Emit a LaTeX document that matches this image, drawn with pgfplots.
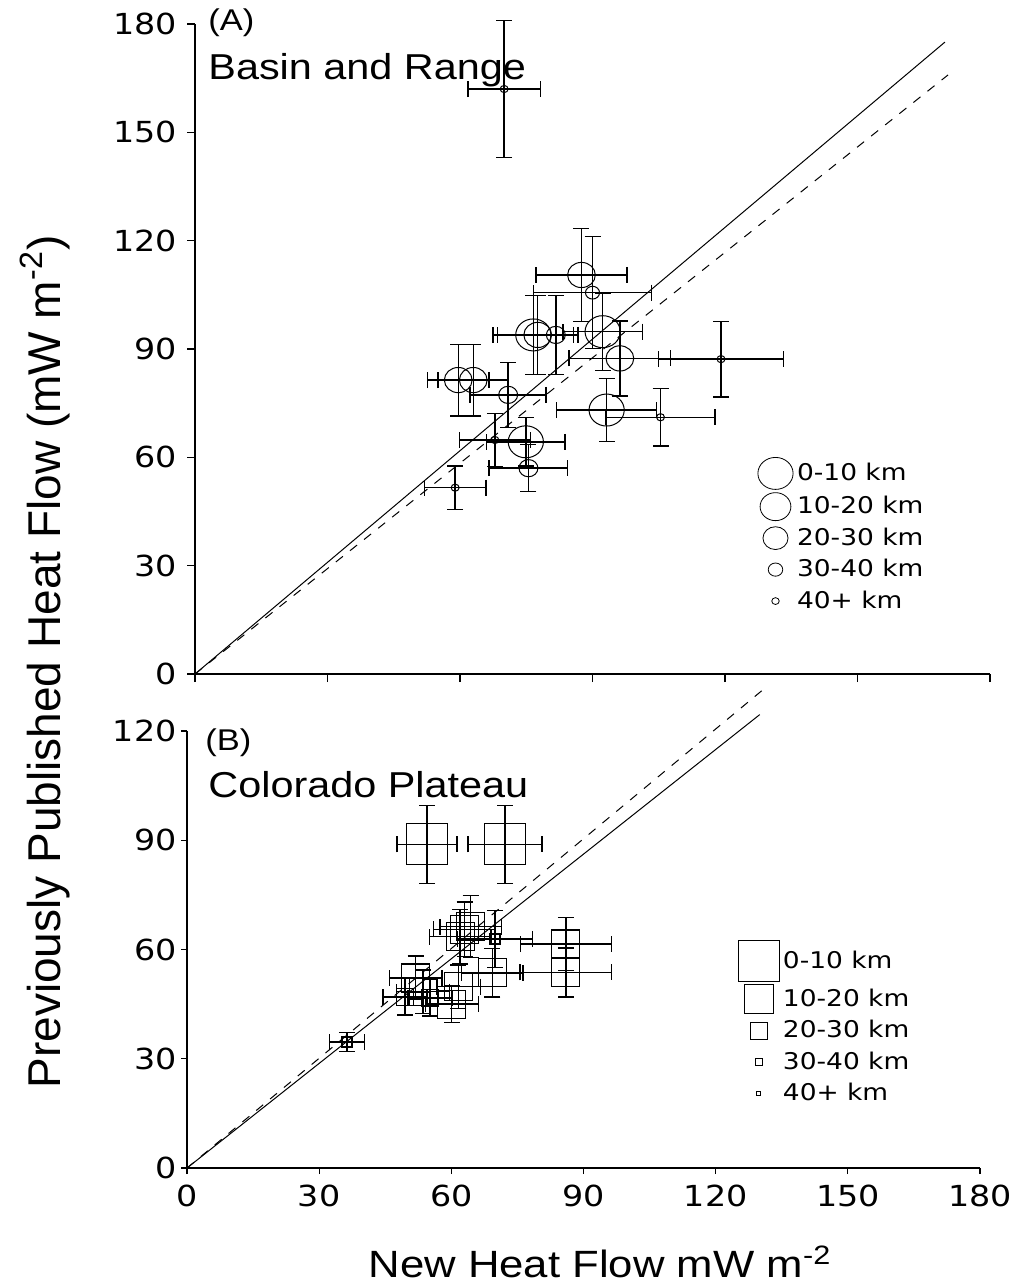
\documentclass[border=0pt]{standalone}
\usepackage{fontspec}
\setmainfont{DejaVu Sans}[FakeStretch=1.15]
\newfontfamily\arial{Liberation Sans}[FakeStretch=1.15]
\newfontfamily\arialn{Liberation Sans}
\usepackage{pgfplots}
\pgfplotsset{compat=1.18}

\pgfplotsset{
  hf/.style={
    scale only axis, axis x line=bottom, axis y line=left,
    axis line style={-, line width=0.6pt},
    xmin=0, xmax=180, ymin=0,
    tick align=outside,
    tick style={black, line width=0.6pt},
    xtick={0,30,...,180},
    ticklabel style={font=\fontsize{14.5}{14.5}\selectfont},
    /pgf/number format/assume math mode=true,
    clip=false,
    legend style={draw=none, fill=none, font=\fontsize{11.5}{13}\selectfont,
      legend cell align=left, anchor=north west, row sep=1.5pt},
  },
  eb/.style={error bars/.cd, x dir=both, x explicit, y dir=both, y explicit,
    error bar style={line width=0.7pt, black},
    error mark options={rotate=90, black, line width=0.7pt, mark size=4pt}},
  circ/.style={only marks, black, forget plot, mark=o, mark size=#1,
    mark options={xscale=1.1, line width=0.5pt}},
  sq/.style={only marks, black, forget plot, mark=square, mark size=#1,
    mark options={line width=0.6pt}},
}

\begin{document}
\begin{tikzpicture}
\path[use as bounding box] (0,0) rectangle (509.5pt,-643.5pt);

% (A) Basin and Range
\begin{axis}[hf, at={(97.5pt,-337pt)}, anchor=south west,
  width=397.5pt, height=325pt, ymax=180,
  major tick length=4pt,
  ytick={0,30,...,180}, xticklabels={},
  yticklabel style={xshift=-1.5pt},
  legend style={at={(0.70,0.34)}}]
\addplot[black, line width=0.5pt, forget plot] coordinates {(0,0) (169.8,175)};
\addplot[black, line width=0.5pt, dash pattern=on 4.5pt off 4.5pt, forget plot] coordinates {(0,0) (170.5,165.9)};
% 0-10 km
\addplot[circ=8pt, eb] coordinates {
 (76.6,93.9) +- (9.1,11)
 (92.3,94.8) +- (9.0,10.7)
 (74.9,64.3) +- (8.9,6.7)
 (93.2,73.1) +- (11.3,8.7)
};
% 10-20 km
\addplot[circ=6.3pt, eb] coordinates {
 (87.5,110.5) +- (10.3,12.8)
 (77.6,93.9) +- (9.1,11)
 (96.2,87.4) +- (11.5,10.4)
 (59.6,81.4) +- (7.0,9.9)
 (63.0,81.4) +- (8.0,9.9)
};
% 20-30 km
\addplot[circ=4.3pt, eb] coordinates {
 (81.7,93.9) +- (5,11)
 (70.9,77.3) +- (8.6,9)
 (75.5,57.0) +- (8.9,6.5)
};
% 30-40 km
\addplot[circ=3.2pt, eb] coordinates {
 (90.0,105.6) +- (13.3,15.5)
};
% 40+ km
\addplot[circ=1.8pt, eb] coordinates {
 (70.0,162.0) +- (8.2,19)
 (119.1,87.2) +- (14.1,10.5)
 (67.9,64.8) +- (8,7.4)
 (58.9,51.6) +- (7,6)
 (105.4,71.1) +- (12.3,8)
};
\addlegendimage{only marks, black, mark=o, mark size=8pt, mark options={xscale=1.1}}
\addlegendentry{0-10 km}
\addlegendimage{only marks, black, mark=o, mark size=7pt, mark options={xscale=1.1}}
\addlegendentry{10-20 km}
\addlegendimage{only marks, black, mark=o, mark size=5.7pt, mark options={xscale=1.1}}
\addlegendentry{20-30 km}
\addlegendimage{only marks, black, mark=o, mark size=3.3pt, mark options={xscale=1.1}}
\addlegendentry{30-40 km}
\addlegendimage{only marks, black, mark=o, mark size=1.7pt, mark options={xscale=1.1}}
\addlegendentry{40+ km}
\end{axis}

% (B) Colorado Plateau
\begin{axis}[hf, at={(93.5pt,-584pt)}, anchor=south west,
  width=396.5pt, height=218.5pt, ymax=120,
  major tick length=3pt,
  xticklabel style={yshift=-2pt},
  yticklabel style={xshift=1.3pt},
  ytick={0,30,...,120},
  legend style={at={(0.687,0.53)}}]
\addplot[black, line width=0.5pt, forget plot] coordinates {(0,0) (130,124.5)};
\addplot[black, line width=0.5pt, dash pattern=on 4.5pt off 4.5pt, forget plot] coordinates {(0,0) (130.7,131.3)};
% 0-10 km
\addplot[sq=10.2pt, eb] coordinates {
 (54.5,88.9) +- (6.8,10.7)
 (72.2,88.9) +- (8.4,10.7)
};
% 10-20 km
\addplot[sq=7pt, eb] coordinates {
 (86.0,61.5) +- (10.3,7.3)
 (86.0,53.7) +- (10.4,6.7)
 (69.3,53.6) +- (7,6.6)
 (64.4,66.3) +- (7,8.5)
 (62.0,63.5) +- (7,7.5)
 (63.0,65.5) +- (7,7.5)
 (51.9,52.2) +- (6,6)
 (53.6,48.4) +- (6,6)
 (61.6,49.8) +- (5,6)
 (60.1,45.0) +- (6,5)
};
% 20-30 km
\addplot[sq=4.2pt, eb] coordinates {
 (55.2,46.7) +- (5,5)
 (49.5,47.0) +- (5,5)
};
% 30-40 km
\addplot[sq=2.5pt, eb] coordinates {
 (69.9,62.9) +- (8.5,7.8)
 (36.3,34.6) +- (4,2.6)
};
\addlegendimage{only marks, black, mark=square, mark size=10.2pt}
\addlegendentry{0-10 km}
\addlegendimage{only marks, black, mark=square, mark size=7.2pt}
\addlegendentry{10-20 km}
\addlegendimage{only marks, black, mark=square, mark size=4.2pt}
\addlegendentry{20-30 km}
\addlegendimage{only marks, black, mark=square, mark size=1.8pt}
\addlegendentry{30-40 km}
\addlegendimage{only marks, black, mark=square, mark size=1.1pt}
\addlegendentry{40+ km}
\end{axis}

\node[anchor=west, inner sep=0pt, font=\arial\fontsize{15}{15}\selectfont] at (104pt,-11.5pt) {(A)};
\node[anchor=west, inner sep=0pt, font=\arial\fontsize{18}{18}\selectfont] at (104pt,-35pt) {Basin and Range};
\node[anchor=west, inner sep=0pt, font=\arial\fontsize{15}{15}\selectfont] at (102.5pt,-371.5pt) {(B)};
\node[anchor=west, inner sep=0pt, font=\arial\fontsize{18}{18}\selectfont] at (104pt,-392.5pt) {Colorado Plateau};
\node[rotate=90, font=\arialn\fontsize{23}{23}\selectfont] at (22.5pt,-331pt)
  {Previously Published Heat Flow (mW m\textsuperscript{-2})};
\node[font=\arial\fontsize{19}{19}\selectfont] at (300pt,-631pt)
  {New Heat Flow mW m\textsuperscript{-2}};
\end{tikzpicture}
\end{document}
